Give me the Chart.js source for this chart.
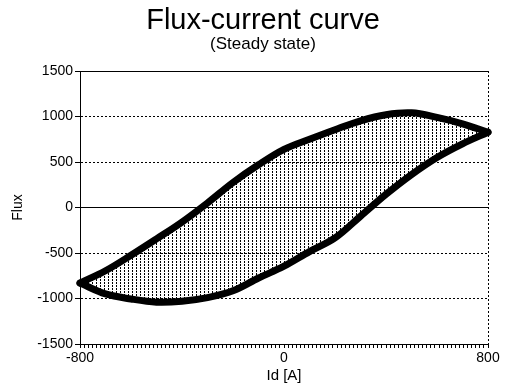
<!DOCTYPE html>
<html lang="en">
<head>
    <meta charset="utf-8" />
    <title>Flux-current curve</title>
    <style>
        html, body { margin: 0; padding: 0; background: #fff; }
        #chart { display: block; }
    </style>
</head>
<body>
    <canvas id="chart" width="507" height="388"></canvas>

    <script src="https://cdn.jsdelivr.net/npm/chart.js@4.4.1/dist/chart.umd.min.js"></script>
    <script>
        // current values (x axis)
        const current = [-800, -700, -600, -500, -400, -300, -200, -100, 0, 100, 200, 300, 400, 500, 600, 700, 800];
        // upper branch of the loop
        const fluxUpper = [-830, -695, -525, -345, -160, 50, 275, 470, 640, 750, 855, 953, 1020, 1040, 990, 920, 827];
        // lower branch of the loop
        const fluxLower = [-830, -950, -1005, -1040, -1030, -990, -915, -775, -645, -485, -335, -96, 145, 362, 550, 700, 827];

        const xLabels = [-800, 0, 800];
        const yTicks = [-1500, -1000, -500, 0, 500, 1000, 1500];
        const xMinorStep = 16;

        // vertical dashed hatching between the two branches
        function hatch() {
            const c = document.createElement('canvas');
            c.width = 4;
            c.height = 3;
            const g = c.getContext('2d');
            g.fillStyle = '#000';
            g.fillRect(0, 0, 1, 2);
            return g.createPattern(c, 'repeat');
        }

        const upper = current.map((x, i) => ({ x: x, y: fluxUpper[i] }));
        const lower = current.map((x, i) => ({ x: x, y: fluxLower[i] }));

        const font = 'Liberation Sans, Arial, sans-serif';

        new Chart(document.getElementById('chart'), {
            type: 'line',
            data: {
                datasets: [{
                    label: 'upper',
                    data: upper,
                    borderColor: '#000',
                    borderWidth: 7,
                    borderCapStyle: 'round',
                    backgroundColor: hatch(),
                    fill: '+1',
                    pointRadius: 0,
                    tension: 0.35,
                    clip: false
                }, {
                    label: 'lower',
                    data: lower,
                    borderColor: '#000',
                    borderWidth: 7,
                    borderCapStyle: 'round',
                    fill: false,
                    pointRadius: 0,
                    tension: 0.35,
                    clip: false
                }]
            },
            options: {
                responsive: false,
                animation: false,
                layout: { padding: { left: 19, right: 0, top: 0, bottom: 0 } },
                plugins: {
                    legend: { display: false },
                    tooltip: { enabled: false },
                    title: {
                        display: true,
                        text: 'Flux-current curve',
                        color: '#000',
                        font: { family: font, size: 29, weight: 'normal', lineHeight: 1 },
                        padding: { top: 6, bottom: 0 }
                    },
                    subtitle: {
                        display: true,
                        text: '(Steady state)',
                        color: '#000',
                        font: { family: font, size: 17, weight: 'normal', lineHeight: 1 },
                        padding: { top: 1, bottom: 18 }
                    }
                },
                scales: {
                    x: {
                        type: 'linear',
                        min: -800,
                        max: 800,
                        afterFit: s => { s.height = 44; s.paddingRight = 19; s.paddingLeft = 0; },
                        afterBuildTicks: s => {
                            const t = [];
                            for (let v = s.min; v <= s.max; v += xMinorStep) t.push({ value: v });
                            s.ticks = t;
                        },
                        ticks: {
                            autoSkip: false,
                            maxRotation: 0,
                            padding: 2,
                            color: '#000',
                            font: { family: font, size: 14 },
                            callback: v => xLabels.includes(v) ? String(v) : ''
                        },
                        grid: {
                            drawOnChartArea: true,
                            color: ctx => ctx.tick && ctx.tick.value === 800 ? '#000' : 'rgba(0,0,0,0)',
                            tickColor: '#000',
                            tickLength: 4,
                            lineWidth: 1
                        },
                        border: {
                            display: true,
                            color: '#000',
                            width: 1,
                            dash: ctx => ctx.tick && ctx.tick.value === 800 ? [2, 2] : []
                        },
                        title: {
                            display: true,
                            text: 'Id [A]',
                            color: '#000',
                            font: { family: font, size: 15 },
                            padding: { top: 0, bottom: 3 }
                        }
                    },
                    y: {
                        min: -1500,
                        max: 1500,
                        afterFit: s => { s.width = 61; },
                        afterBuildTicks: s => { s.ticks = yTicks.map(v => ({ value: v })); },
                        ticks: {
                            padding: 2,
                            color: '#000',
                            font: { family: font, size: 14 },
                            callback: v => String(v)
                        },
                        grid: {
                            color: '#000',
                            tickColor: '#000',
                            tickLength: 5,
                            lineWidth: 1
                        },
                        border: {
                            display: true,
                            color: '#000',
                            width: 1,
                            dash: ctx => ctx.tick && ctx.tick.value !== 0 && ctx.tick.value !== 1500 ? [2, 2] : []
                        },
                        title: {
                            display: true,
                            text: 'Flux',
                            color: '#000',
                            font: { family: font, size: 14 },
                            padding: { top: -9, bottom: 0 }
                        }
                    }
                }
            }
        });
    </script>
</body>
</html>
